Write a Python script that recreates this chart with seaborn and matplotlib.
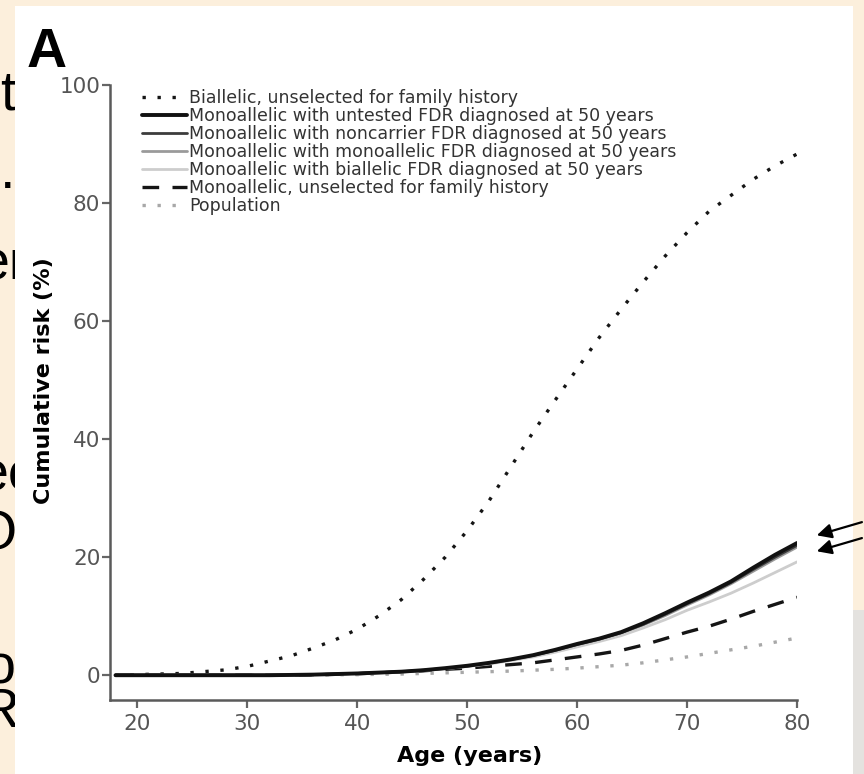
import matplotlib
matplotlib.use("Agg")
import matplotlib.pyplot as plt
from matplotlib.patches import Rectangle
import seaborn as sns

# ---------------- data ----------------
ages = list(range(18, 81, 2))

biallelic = [0.0, 0.1, 0.2, 0.3, 0.6, 0.9, 1.5, 2.4, 3.3, 4.6, 6.0, 7.8, 10.1, 12.8,
             16.2, 20.0, 24.5, 29.6, 35.4, 41.2, 46.6, 51.9, 57.2, 62.0, 66.6, 71.0,
             75.0, 78.6, 81.3, 84.0, 86.3, 88.3]
mono_untested = [0, 0, 0, 0, 0, 0, 0, 0, 0.05, 0.1, 0.2, 0.3, 0.45, 0.6, 0.85, 1.2,
                 1.6, 2.1, 2.7, 3.4, 4.3, 5.3, 6.2, 7.3, 8.8, 10.5, 12.3, 14.0, 15.9,
                 18.2, 20.4, 22.4]
mono_noncarrier = [0, 0, 0, 0, 0, 0, 0, 0, 0.05, 0.1, 0.2, 0.3, 0.45, 0.6, 0.85, 1.15,
                   1.55, 2.05, 2.65, 3.35, 4.2, 5.2, 6.1, 7.2, 8.6, 10.3, 12.1, 13.8,
                   15.7, 17.9, 20.0, 22.0]
mono_monoFDR = [0, 0, 0, 0, 0, 0, 0, 0, 0.05, 0.1, 0.2, 0.3, 0.4, 0.55, 0.8, 1.1,
                1.5, 2.0, 2.6, 3.3, 4.15, 5.1, 6.0, 7.05, 8.5, 10.1, 11.9, 13.6, 15.5,
                17.6, 19.7, 21.7]
mono_biFDR = [0, 0, 0, 0, 0, 0, 0, 0, 0.05, 0.1, 0.2, 0.3, 0.4, 0.55, 0.8, 1.1,
              1.5, 1.9, 2.5, 3.1, 3.9, 4.8, 5.7, 6.7, 8.0, 9.4, 11.0, 12.4, 13.9,
              15.6, 17.4, 19.2]
mono_unselected = [0, 0, 0, 0, 0, 0, 0, 0, 0.0, 0.05, 0.15, 0.25, 0.4, 0.55, 0.75, 1.0,
                   1.2, 1.5, 1.8, 2.1, 2.6, 3.1, 3.6, 4.2, 5.1, 6.2, 7.3, 8.3, 9.5,
                   10.8, 12.0, 13.2]
population = [0, 0, 0, 0, 0, 0, 0, 0, 0.02, 0.05, 0.08, 0.1, 0.15, 0.2, 0.3, 0.4,
              0.5, 0.6, 0.7, 0.85, 1.0, 1.2, 1.45, 1.7, 2.1, 2.6, 3.1, 3.7, 4.3,
              4.9, 5.6, 6.3]

labels = [
    "Biallelic, unselected for family history",
    "Monoallelic with untested FDR diagnosed at 50 years",
    "Monoallelic with noncarrier FDR diagnosed at 50 years",
    "Monoallelic with monoallelic FDR diagnosed at 50 years",
    "Monoallelic with biallelic FDR diagnosed at 50 years",
    "Monoallelic, unselected for family history",
    "Population",
]
series = [biallelic, mono_untested, mono_noncarrier, mono_monoFDR, mono_biFDR,
          mono_unselected, population]

x_ticks = [20, 30, 40, 50, 60, 70, 80]
y_ticks = [0, 20, 40, 60, 80, 100]
x_label = "Age (years)"
y_label = "Cumulative risk (%)"
panel_letter = "A"
slide_fragments = ["t", ".", "er", "ec", "O", "o", "R"]

# ---------------- styles ----------------
styles = [
    dict(color="#151515", lw=2.4, ls=(0, (1, 3.5)), z=3),
    dict(color="#111111", lw=2.8, ls="-", z=6),
    dict(color="#3c3c3c", lw=2.0, ls="-", z=5),
    dict(color="#9a9a9a", lw=2.0, ls="-", z=4),
    dict(color="#cdcdcd", lw=2.0, ls="-", z=4),
    dict(color="#151515", lw=2.4, ls=(0, (5, 4)), z=3),
    dict(color="#a8a8a8", lw=2.4, ls=(0, (1, 3.5)), z=3),
]

sns.set_style("ticks")
plt.rcParams["font.family"] = ["DejaVu Sans"]

W, H = 864, 774
fig = plt.figure(figsize=(W / 100, H / 100), dpi=100)
fig.patch.set_facecolor("#fcefdc")


def fx(px):
    return px / W


def fy(py):
    return 1 - py / H


# slide text behind the pasted figure (only the right edges show)
frag_pos = [(0, 110), (0, 188), (-21.5, 280), (-22.6, 490), (-27, 550), (-15, 683), (-21, 727)]
for s, (px, py) in zip(slide_fragments, frag_pos):
    fig.text(fx(px), fy(py), s, fontsize=40, family="Liberation Sans", color="black",
             ha="left", va="baseline", zorder=0.5)

# white pasted figure panel
fig.add_artist(Rectangle((fx(15), 0), fx(853) - fx(15), fy(6), transform=fig.transFigure,
                         facecolor="white", edgecolor="none", zorder=1))
fig.add_artist(Rectangle((fx(853), 0), fx(11), 164 / H, transform=fig.transFigure,
                         facecolor="#e4e2df", edgecolor="none", zorder=1.5))

ax = fig.add_axes([fx(110), fy(700), (797 - 110) / W, (700 - 85) / H], zorder=2)

for lab, vals, st in zip(labels, series, styles):
    sns.lineplot(x=ages, y=vals, ax=ax, color=st["color"], linewidth=st["lw"],
                 linestyle=st["ls"], label=lab, zorder=st["z"])

ax.set_xlim(17.5, 80)
ax.set_ylim(-4.2, 100)
ax.set_xticks(x_ticks)
ax.set_yticks(y_ticks)
sns.despine(ax=ax)
for side in ("left", "bottom"):
    ax.spines[side].set_color("#5a5a5a")
    ax.spines[side].set_linewidth(1.8)
ax.tick_params(direction="out", length=6, width=1.6, color="#666666",
               labelcolor="#555555", labelsize=15.5)
ax.tick_params(axis="y", pad=1)
ax.tick_params(axis="x", pad=4)

ax.set_xlabel(x_label, fontsize=16, fontweight="bold", color="black")
ax.set_ylabel(y_label, fontsize=16, fontweight="bold", color="black")
ax.xaxis.set_label_coords(0.524, (700 - 746) / 615)
ax.yaxis.set_label_coords((54 - 110) / 687, 0.52)

leg = ax.legend(loc="upper left", bbox_to_anchor=((142 - 110) / 687, 1 - 4 / 615),
                frameon=False, fontsize=12.5, handlelength=2.6, handletextpad=0.12,
                labelspacing=0.0, borderaxespad=0, borderpad=0)
for t in leg.get_texts():
    t.set_color("#333333")

# arrows on the right
for tip_y in (23.7, 21.0):
    ax.annotate("", xy=(81.8, tip_y), xytext=(32.5, 9.5), textcoords="offset points",
                arrowprops=dict(arrowstyle="-|>", color="black", lw=1.6,
                                mutation_scale=22, shrinkA=0, shrinkB=0),
                annotation_clip=False)

fig.text(fx(27), fy(67), panel_letter, fontsize=40, fontweight="bold",
         family="Liberation Sans", color="black", ha="left", va="baseline", zorder=3)

fig.savefig("out.png", dpi=100, facecolor=fig.get_facecolor())
